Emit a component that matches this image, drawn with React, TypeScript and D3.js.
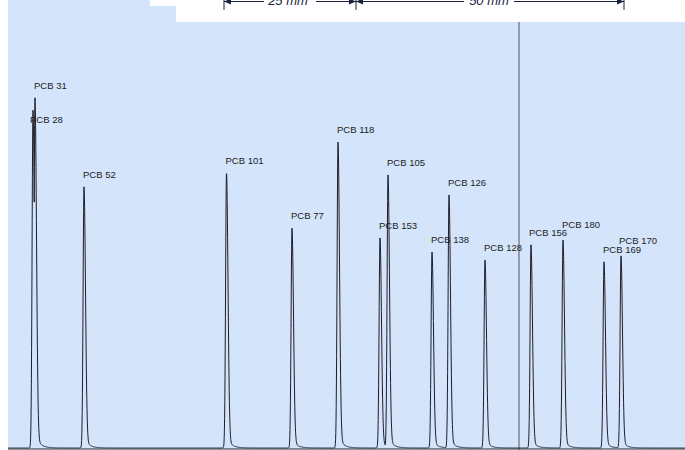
import React from "react";
import * as d3 from "d3";

// Peak data (retention position in chart units, intensity 0..1000)
const peakLabels = ["PCB 28", "PCB 31", "PCB 52", "PCB 101", "PCB 77", "PCB 118", "PCB 153", "PCB 105", "PCB 138", "PCB 126", "PCB 128", "PCB 156", "PCB 180", "PCB 169", "PCB 170"];
const peakPositions = [25, 27, 76, 218.5, 284, 330, 372, 380, 424, 441, 477, 523, 555, 596, 613];
const peakHeights = [793, 822, 613, 646, 516, 718, 493, 641, 460, 594, 441, 477, 488, 437, 451];

const scaleMarks = [216, 348, 616];
const scaleTexts = ["25 mm", "50 mm"];

const W = 685;
const H = 450;

export default function App() {
  const x = d3.scaleLinear().domain([0, 677]).range([8, 685]);
  const y = d3.scaleLinear().domain([0, 1000]).range([448, 22]);

  // build the trace: envelope of the individual peak shapes
  const pts: [number, number][] = [];
  for (let t = 0; t <= 677; t += 0.2) {
    let v = 0;
    for (let i = 0; i < peakPositions.length; i++) {
      const d = t - peakPositions[i];
      const h = peakHeights[i];
      let p;
      if (d < 0) {
        p = h * Math.exp(-0.5 * (d / 0.9) ** 2);
      } else {
        p = h * (0.96 * Math.exp(-0.5 * (d / 1.5) ** 2) + 0.04 * Math.exp(-d / 4.5));
      }
      v = Math.max(v, p);
    }
    pts.push([t, v]);
  }
  const line = d3.line<[number, number]>().x((d) => x(d[0])).y((d) => y(d[1]));

  const labelOffsets: Record<string, [number, number]> = {
    "PCB 28": [-2, -22],
    "PCB 180": [0, 3],
    "PCB 170": [-1, 3],
    "PCB 156": [-1, 0],
  };

  const [m0, m1, m2] = scaleMarks.map((d) => x(d));
  const ay = 1.5;
  const navy = "#1c2140";

  return (
    <svg width={W} height={H} style={{ position: "absolute", left: 0, top: 0 }} fontFamily="'Liberation Sans', Arial, sans-serif">
      <rect x={0} y={0} width={W} height={H} fill="#ffffff" />
      <rect x={8} y={0} width={W - 8} height={449} fill="#d3e4fb" />
      <rect x={150} y={0} width={W - 150} height={6} fill="#ffffff" />
      <rect x={176} y={0} width={W - 176} height={22} fill="#ffffff" />

      {/* scale annotation */}
      <g stroke={navy} strokeWidth={1} fill="none">
        {[m0, m1, m2].map((m, i) => (
          <line key={i} x1={m} x2={m} y1={0} y2={10} />
        ))}
        <line x1={m0} x2={m0 + 40} y1={ay} y2={ay} />
        <line x1={m0 + 92} x2={m1} y1={ay} y2={ay} />
        <line x1={m1} x2={m1 + 108} y1={ay} y2={ay} />
        <line x1={m1 + 158} x2={m2} y1={ay} y2={ay} />
      </g>
      <g fill={navy}>
        <path d={`M${m0},${ay} l7,-3 v6 z`} />
        <path d={`M${m1},${ay} l-7,-3 v6 z`} />
        <path d={`M${m1},${ay} l7,-3 v6 z`} />
        <path d={`M${m2},${ay} l-7,-3 v6 z`} />
      </g>
      <text x={(m0 + m1) / 2 - 2} y={5} fontSize={13} fontStyle="italic" textAnchor="middle" fill={navy}>{scaleTexts[0]}</text>
      <text x={(m1 + m2) / 2 - 1} y={5} fontSize={13} fontStyle="italic" textAnchor="middle" fill={navy}>{scaleTexts[1]}</text>

      {/* vertical marker */}
      <line x1={519} x2={519} y1={22} y2={450} stroke="#555" strokeWidth={1} />

      {/* trace */}
      <path d={line(pts) || ""} fill="none" stroke="#1e1e28" strokeWidth={1} />
      <line x1={8} x2={W} y1={449} y2={449} stroke="#2a2a30" strokeWidth={1.2} />

      {/* labels */}
      {peakLabels.map((lab, i) => {
        const off = labelOffsets[lab] || [0, 0];
        return (
          <text key={lab} x={x(peakPositions[i]) - 1 + off[0]} y={y(peakHeights[i]) - 9 - off[1]} fontSize={9.5} fill="#222">
            {lab}
          </text>
        );
      })}
    </svg>
  );
}
